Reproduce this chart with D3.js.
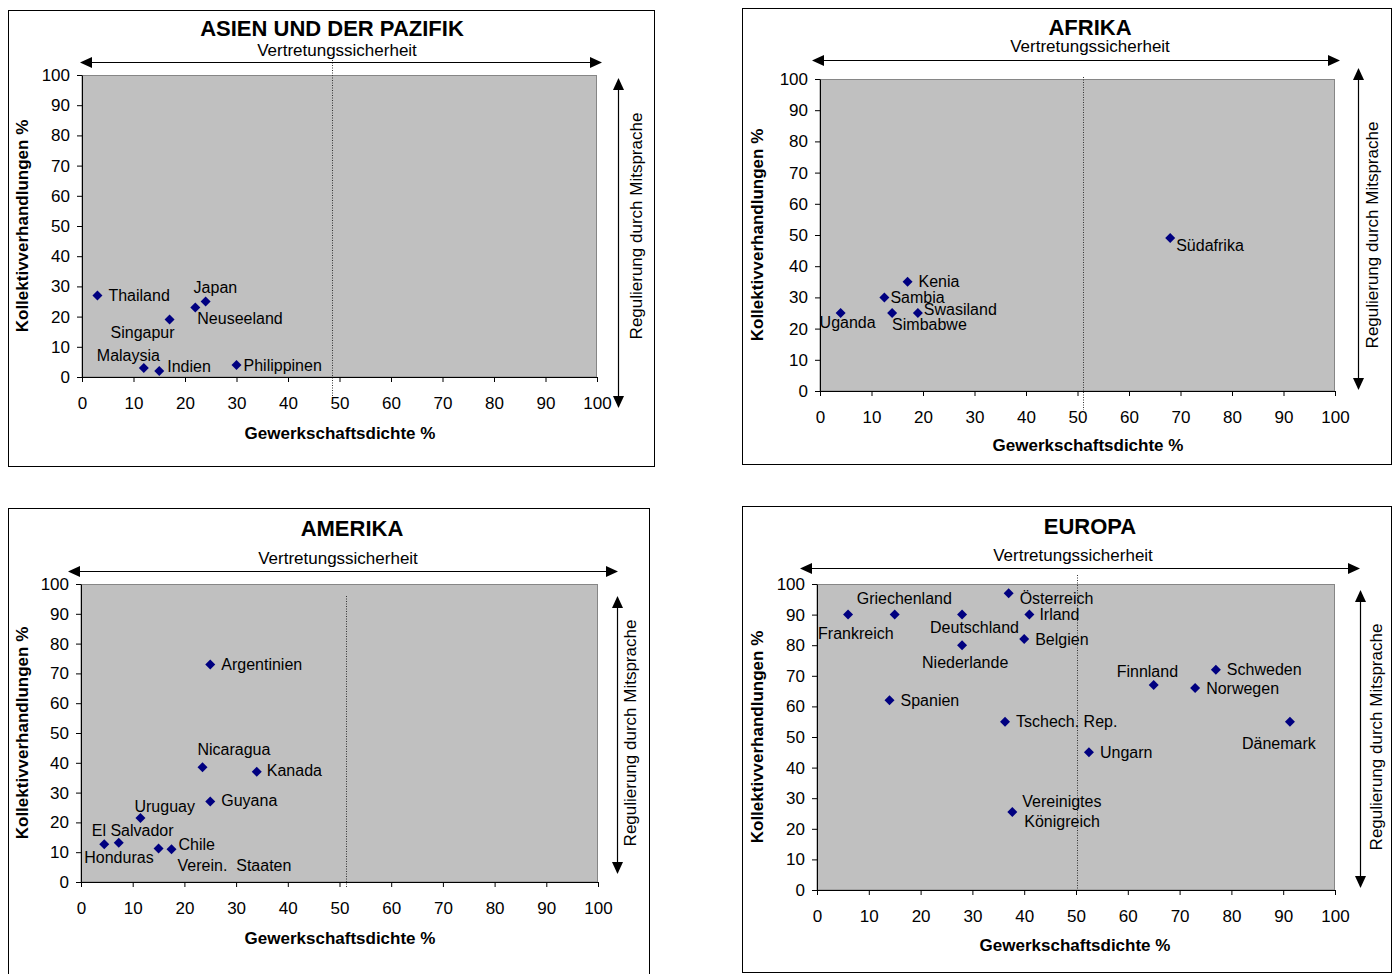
<!DOCTYPE html>
<html><head><meta charset="utf-8">
<script src="https://cdn.jsdelivr.net/npm/d3@7"></script>
<style>
body{margin:0;background:#fff}
svg{display:block}
text{font-family:"Liberation Sans",Arial,sans-serif;fill:#000}
</style>
</head><body>
<svg id="chart" width="1395" height="974"></svg>
<script>
// ---------- DATA ----------
const xTicks = [0,10,20,30,40,50,60,70,80,90,100];
const yTicks = [0,10,20,30,40,50,60,70,80,90,100];

const asiaCountries = ["Thailand","Japan","Neuseeland","Singapur","Malaysia","Indien","Philippinen"];
const asiaDensity   = [3, 24, 22, 17, 12, 15, 30];
const asiaCoverage  = [27, 25, 23, 19, 3, 2, 4];

const afrikaCountries = ["Kenia","Sambia","Uganda","Simbabwe","Swasiland","Südafrika"];
const afrikaDensity   = [17, 12.5, 4, 14, 19, 68];
const afrikaCoverage  = [35, 30, 25, 25, 25, 49];

const amerikaCountries = ["Argentinien","Nicaragua","Kanada","Guyana","Uruguay","Honduras","El Salvador","Verein.  Staaten","Chile"];
const amerikaDensity   = [25, 23.5, 34, 25, 11.5, 4.5, 7.3, 15, 17.5];
const amerikaCoverage  = [73, 38.5, 37, 27, 21.5, 12.7, 13.2, 11.2, 11];

const europaCountries = ["Frankreich","Griechenland","Deutschland","Österreich","Irland","Niederlande","Belgien","Spanien","Tschech. Rep.","Finnland","Schweden","Norwegen","Dänemark","Ungarn","Vereinigtes\nKönigreich"];
const europaDensity   = [6, 15, 28, 37, 41, 28, 40, 14, 36.3, 65, 77, 73, 91.3, 52.5, 37.7];
const europaCoverage  = [90, 90, 90, 97, 90, 80, 82, 62, 55, 67, 72, 66, 55, 45, 25.5];

// ---------- LABEL PLACEMENT (layout, not data) ----------
const asiaLabelOffsets    = [[11,0],[-12,-14],[2,11],[-59,13],[-47,-13],[8,-5],[7,0]];
const afrikaLabelOffsets  = [[11,0],[6,0],[-21,9],[0,11],[6,-4],[6,7]];
const amerikaLabelOffsets = [[11,0],[-5,-18],[10,-1],[11,-1],[-6,-12],[-20,13],[-27,-12],[19,17],[7,-5]];
const europaLabelOffsets  = [[-30,19],[-38,-16],[-32,13],[11,5],[10,0],[-40,17],[11,0],[11,0],[11,0],[-37,-14],[11,0],[11,0],[-48,22],[11,0],[10,-11]];

// ---------- LAYOUT ----------
const panels = [
  {title:"ASIEN UND DER PAZIFIK", names:asiaCountries, xs:asiaDensity, ys:asiaCoverage, offs:asiaLabelOffsets,
   box:[8,10,646,456], l:82, r:597, t:75, b:377, titleY:28, titleX:332, vertY:50, vertX:337,
   arrowY:62, arrowX1:80, arrowX2:602, rArrowX:618, rArrowY1:78, rArrowY2:408, rTextX:636,
   divider:48.5, divY1:60, divY2:398, yLabX:22, xLabY:433, xLabX:340},
  {title:"AFRIKA", names:afrikaCountries, xs:afrikaDensity, ys:afrikaCoverage, offs:afrikaLabelOffsets,
   box:[742,8,649,456], l:820, r:1335, t:79, b:391, titleY:27, titleX:1090, vertY:46, vertX:1090,
   arrowY:60, arrowX1:812, arrowX2:1340, rArrowX:1358, rArrowY1:68, rArrowY2:390, rTextX:1372,
   divider:51, divY1:77, divY2:410, yLabX:757, xLabY:445, xLabX:1088},
  {title:"AMERIKA", names:amerikaCountries, xs:amerikaDensity, ys:amerikaCoverage, offs:amerikaLabelOffsets,
   box:[8,508,641,466], l:81, r:598, t:584, b:882, titleY:528, titleX:352, vertY:558, vertX:338,
   arrowY:571, arrowX1:68, arrowX2:618, rArrowX:617, rArrowY1:596, rArrowY2:874, rTextX:630,
   divider:51.3, divY1:596, divY2:888, yLabX:22, xLabY:938, xLabX:340},
  {title:"EUROPA", names:europaCountries, xs:europaDensity, ys:europaCoverage, offs:europaLabelOffsets,
   box:[742,506,649,466], l:817, r:1335, t:584, b:890, titleY:526, titleX:1090, vertY:555, vertX:1073,
   arrowY:568, arrowX1:800, arrowX2:1360, rArrowX:1360, rArrowY1:590, rArrowY2:888, rTextX:1376,
   divider:50.2, divY1:575, divY2:890, yLabX:757, xLabY:945, xLabX:1075}
];

const svg = d3.select("#chart");
const HL = 12, HW = 5.5; // arrow head length / half width

function drawPanel(p){
  const g = svg.append("g");
  g.append("rect").attr("x",p.box[0]+0.5).attr("y",p.box[1]+0.5).attr("width",p.box[2]).attr("height",p.box[3])
    .attr("fill","#fff").attr("stroke","#000").attr("stroke-width",1);

  const x = d3.scaleLinear().domain([0,100]).range([p.l,p.r]);
  const y = d3.scaleLinear().domain([0,100]).range([p.b,p.t]);

  g.append("rect").attr("x",p.l).attr("y",p.t+0.5).attr("width",p.r-p.l-0.5).attr("height",p.b-p.t-0.5)
    .attr("fill","#c0c0c0").attr("stroke","#868686").attr("stroke-width",1);

  // divider
  g.append("line").attr("x1",Math.round(x(p.divider))+0.5).attr("x2",Math.round(x(p.divider))+0.5)
    .attr("y1",p.divY1).attr("y2",p.divY2).attr("stroke","#333").attr("stroke-width",1).attr("stroke-dasharray","1,1.5");

  // axes
  const ya = g.append("g").attr("transform",`translate(${p.l},0)`)
    .call(d3.axisLeft(y).tickValues(yTicks).tickSize(5).tickSizeOuter(0).tickPadding(7));
  const xa = g.append("g").attr("transform",`translate(0,${p.b})`)
    .call(d3.axisBottom(x).tickValues(xTicks).tickSize(5).tickSizeOuter(0).tickPadding(15));
  [ya,xa].forEach(a=>{
    a.attr("font-family",null).attr("font-size",null);
    a.selectAll("text").attr("font-size",17).attr("fill","#000");
    a.selectAll("line,path").attr("stroke","#000");
  });

  // points
  const idx = d3.range(p.names.length);
  g.selectAll("path.pt").data(idx).join("path").attr("class","pt")
    .attr("d","M0,-5L5,0L0,5L-5,0Z")
    .attr("transform",i=>`translate(${x(p.xs[i])},${y(p.ys[i])})`)
    .attr("fill","#000080");
  idx.forEach(i=>{
    const lines = p.names[i].split("\n");
    const o = p.offs[i];
    lines.forEach((ln,k)=>{
      g.append("text").attr("x",x(p.xs[i])+o[0]+(k*2)).attr("y",y(p.ys[i])+o[1]+k*20)
        .attr("dy","0.35em").attr("font-size",16).style("white-space","pre").text(ln);
    });
  });

  // title
  g.append("text").attr("x",p.titleX).attr("y",p.titleY).attr("dy","0.35em").attr("text-anchor","middle")
    .attr("font-size",22).attr("font-weight","bold").text(p.title);
  g.append("text").attr("x",p.vertX).attr("y",p.vertY).attr("dy","0.35em").attr("text-anchor","middle")
    .attr("font-size",17).text("Vertretungssicherheit");

  // horizontal double arrow
  g.append("line").attr("x1",p.arrowX1+HL).attr("x2",p.arrowX2-HL).attr("y1",p.arrowY+0.5).attr("y2",p.arrowY+0.5)
    .attr("stroke","#000").attr("stroke-width",1.2);
  g.append("path").attr("d",`M${p.arrowX1},${p.arrowY+0.5}L${p.arrowX1+HL},${p.arrowY+0.5-HW}L${p.arrowX1+HL},${p.arrowY+0.5+HW}Z`).attr("fill","#000");
  g.append("path").attr("d",`M${p.arrowX2},${p.arrowY+0.5}L${p.arrowX2-HL},${p.arrowY+0.5-HW}L${p.arrowX2-HL},${p.arrowY+0.5+HW}Z`).attr("fill","#000");

  // vertical double arrow
  const vx = p.rArrowX+0.5;
  g.append("line").attr("x1",vx).attr("x2",vx).attr("y1",p.rArrowY1+HL).attr("y2",p.rArrowY2-HL)
    .attr("stroke","#000").attr("stroke-width",1.2);
  g.append("path").attr("d",`M${vx},${p.rArrowY1}L${vx-HW},${p.rArrowY1+HL}L${vx+HW},${p.rArrowY1+HL}Z`).attr("fill","#000");
  g.append("path").attr("d",`M${vx},${p.rArrowY2}L${vx-HW},${p.rArrowY2-HL}L${vx+HW},${p.rArrowY2-HL}Z`).attr("fill","#000");
  g.append("text").attr("transform",`translate(${p.rTextX},${(p.t+p.b)/2}) rotate(-90)`).attr("dy","0.35em")
    .attr("text-anchor","middle").attr("font-size",17).text("Regulierung durch Mitsprache");

  // axis titles
  g.append("text").attr("transform",`translate(${p.yLabX},${(p.t+p.b)/2}) rotate(-90)`).attr("dy","0.35em")
    .attr("text-anchor","middle").attr("font-size",17).attr("font-weight","bold").text("Kollektivverhandlungen %");
  g.append("text").attr("x",p.xLabX).attr("y",p.xLabY).attr("dy","0.35em").attr("text-anchor","middle")
    .attr("font-size",17).attr("font-weight","bold").text("Gewerkschaftsdichte %");
}

panels.forEach(drawPanel);
</script>
</body></html>
